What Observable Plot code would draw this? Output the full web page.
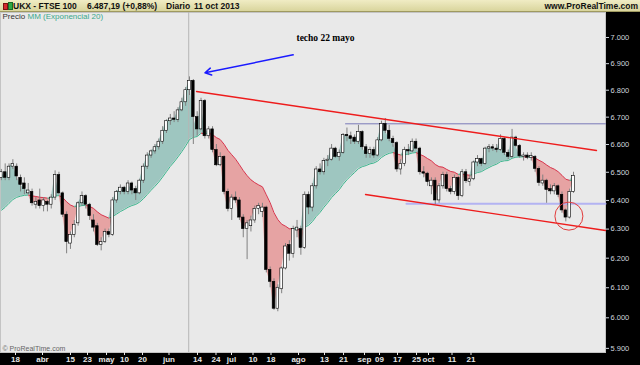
<!DOCTYPE html>
<html><head><meta charset="utf-8">
<script src="https://cdn.jsdelivr.net/npm/d3@7"></script>
<script src="https://cdn.jsdelivr.net/npm/@observablehq/plot@0.6"></script>
<style>
html,body{margin:0;padding:0;background:#000;}
#hdr{position:relative;width:640px;height:12px;box-sizing:border-box;background:linear-gradient(#f0ecc4,#d9d59d);border-bottom:1px solid #9f9a60;font:bold 8.5px "Liberation Sans",Arial,sans-serif;color:#111;white-space:pre;overflow:hidden;}
#hdr span{position:absolute;top:1px;line-height:10px;}
#hdr i{position:absolute;display:block;}
#chart{width:640px;height:353px;}
</style></head><body>
<div id="hdr">
<i style="left:3px;top:3px;width:3px;height:5px;background:#d42a2a;border:1px solid #7a1010"></i>
<i style="left:8px;top:2px;width:3px;height:6px;background:#2fa844;border:1px solid #186a24"></i>
<span style="left:13px">UKX - FTSE 100</span>
<span style="left:87px">6.487,19 (+0,88%)</span>
<span style="left:166px">Diario</span>
<span style="left:194px">11 oct 2013</span>
<span style="right:2px">www.ProRealTime.com</span>
</div>
<div id="chart"></div>
<script>
// Daily candles (trading-day index 0..149), values in thousands of points
const open = [6.48,6.50,6.48,6.52,6.52,6.48,6.46,6.425,6.43,6.385,
6.40,6.38,6.395,6.385,6.41,6.49,6.425,6.35,6.25,6.28,
6.32,6.39,6.415,6.385,6.33,6.31,6.245,6.255,6.29,6.28,
6.40,6.43,6.445,6.43,6.46,6.44,6.425,6.47,6.52,6.56,
6.575,6.59,6.61,6.65,6.685,6.695,6.69,6.725,6.755,6.80,
6.835,6.70,6.655,6.76,6.63,6.655,6.58,6.525,6.555,6.43,
6.37,6.41,6.40,6.34,6.30,6.31,6.33,6.37,6.36,6.375,
6.16,6.12,6.03,6.095,6.165,6.245,6.215,6.295,6.30,6.235,
6.42,6.375,6.45,6.51,6.50,6.54,6.545,6.585,6.555,6.57,
6.635,6.63,6.625,6.61,6.645,6.59,6.565,6.58,6.56,6.615,
6.675,6.65,6.62,6.605,6.51,6.53,6.58,6.575,6.61,6.585,
6.50,6.495,6.45,6.47,6.40,6.45,6.49,6.44,6.43,6.48,
6.415,6.50,6.465,6.475,6.535,6.547,6.53,6.585,6.59,6.585,
6.58,6.62,6.57,6.555,6.625,6.595,6.555,6.56,6.552,6.555,
6.512,6.46,6.47,6.44,6.432,6.45,6.42,6.365,6.34,6.43];
const high = [6.51,6.53,6.53,6.545,6.53,6.49,6.48,6.46,6.44,6.41,
6.44,6.41,6.40,6.42,6.505,6.50,6.43,6.36,6.29,6.33,
6.395,6.43,6.42,6.39,6.35,6.32,6.27,6.30,6.30,6.41,
6.435,6.455,6.45,6.47,6.465,6.45,6.475,6.53,6.57,6.58,
6.60,6.62,6.665,6.69,6.71,6.72,6.735,6.77,6.81,6.85,
6.84,6.72,6.77,6.765,6.665,6.665,6.60,6.57,6.56,6.44,
6.42,6.43,6.41,6.35,6.33,6.345,6.38,6.39,6.39,6.38,
6.17,6.13,6.11,6.17,6.25,6.26,6.31,6.33,6.31,6.43,
6.43,6.46,6.52,6.53,6.55,6.56,6.60,6.59,6.58,6.64,
6.66,6.645,6.635,6.67,6.65,6.60,6.59,6.59,6.625,6.685,
6.695,6.67,6.63,6.61,6.545,6.59,6.60,6.62,6.62,6.59,
6.52,6.50,6.48,6.48,6.46,6.50,6.50,6.45,6.49,6.485,
6.51,6.51,6.49,6.54,6.56,6.55,6.59,6.60,6.60,6.60,
6.635,6.625,6.58,6.655,6.63,6.60,6.57,6.57,6.57,6.56,
6.52,6.49,6.475,6.455,6.46,6.455,6.43,6.37,6.44,6.50];
const low = [6.47,6.47,6.47,6.51,6.47,6.43,6.42,6.42,6.38,6.37,
6.37,6.36,6.36,6.37,6.40,6.42,6.34,6.215,6.23,6.27,
6.31,6.38,6.37,6.33,6.29,6.24,6.225,6.25,6.27,6.275,
6.39,6.42,6.42,6.42,6.42,6.40,6.42,6.46,6.51,6.55,
6.565,6.58,6.60,6.64,6.67,6.68,6.68,6.72,6.74,6.78,
6.60,6.63,6.65,6.62,6.62,6.57,6.52,6.52,6.42,6.36,
6.33,6.39,6.33,6.27,6.195,6.29,6.32,6.35,6.34,6.15,
6.10,6.025,6.02,6.08,6.16,6.19,6.20,6.27,6.21,6.23,
6.35,6.36,6.44,6.49,6.49,6.52,6.54,6.55,6.54,6.565,
6.61,6.60,6.60,6.60,6.58,6.55,6.55,6.55,6.555,6.61,
6.64,6.61,6.59,6.50,6.49,6.52,6.56,6.57,6.58,6.49,
6.48,6.45,6.42,6.385,6.39,6.44,6.43,6.42,6.42,6.40,
6.41,6.46,6.45,6.47,6.52,6.52,6.525,6.57,6.575,6.57,
6.575,6.56,6.545,6.55,6.59,6.55,6.54,6.545,6.54,6.50,
6.45,6.45,6.39,6.42,6.42,6.41,6.355,6.325,6.335,6.425];
const close = [6.50,6.48,6.52,6.53,6.485,6.455,6.44,6.435,6.39,6.395,
6.38,6.40,6.385,6.41,6.49,6.425,6.35,6.255,6.28,6.315,
6.39,6.415,6.385,6.345,6.305,6.245,6.255,6.29,6.28,6.40,
6.43,6.445,6.43,6.46,6.435,6.425,6.47,6.52,6.56,6.575,
6.59,6.61,6.65,6.685,6.695,6.69,6.725,6.755,6.80,6.835,
6.70,6.655,6.76,6.63,6.655,6.58,6.525,6.555,6.43,6.37,
6.41,6.40,6.34,6.30,6.32,6.33,6.37,6.38,6.375,6.16,
6.12,6.03,6.10,6.165,6.24,6.215,6.30,6.305,6.235,6.42,
6.375,6.45,6.51,6.50,6.54,6.545,6.585,6.555,6.57,6.635,
6.63,6.62,6.61,6.645,6.59,6.565,6.58,6.56,6.615,6.675,
6.65,6.62,6.605,6.51,6.53,6.58,6.575,6.61,6.585,6.50,
6.495,6.465,6.47,6.40,6.45,6.49,6.44,6.43,6.48,6.415,
6.50,6.468,6.475,6.535,6.547,6.53,6.585,6.59,6.585,6.58,
6.62,6.57,6.555,6.625,6.595,6.557,6.56,6.552,6.558,6.512,
6.462,6.47,6.437,6.432,6.45,6.42,6.365,6.34,6.43,6.487];
// MM (Exponencial 20) as drawn
const ema20 = [6.365,6.376,6.390,6.403,6.411,6.415,6.418,6.419,6.416,6.414,
6.411,6.410,6.408,6.408,6.416,6.417,6.410,6.395,6.384,6.378,
6.379,6.382,6.383,6.379,6.372,6.360,6.350,6.344,6.338,6.344,
6.352,6.361,6.368,6.376,6.382,6.386,6.394,6.406,6.421,6.436,
6.450,6.465,6.483,6.502,6.521,6.537,6.555,6.574,6.595,6.618,
6.626,6.629,6.641,6.640,6.641,6.636,6.625,6.618,6.601,6.579,
6.563,6.547,6.527,6.506,6.488,6.473,6.463,6.455,6.448,6.420,
6.392,6.357,6.333,6.317,6.310,6.301,6.301,6.301,6.295,6.307,
6.313,6.326,6.344,6.358,6.376,6.392,6.410,6.424,6.438,6.457,
6.473,6.487,6.499,6.513,6.520,6.524,6.530,6.533,6.540,6.553,
6.562,6.568,6.571,6.566,6.562,6.564,6.565,6.569,6.571,6.564,
6.558,6.549,6.541,6.528,6.520,6.518,6.510,6.503,6.500,6.492,
6.493,6.491,6.489,6.494,6.499,6.502,6.510,6.517,6.524,6.529,
6.538,6.541,6.542,6.550,6.554,6.555,6.555,6.555,6.555,6.551,
6.543,6.536,6.526,6.517,6.511,6.502,6.489,6.475,6.471,6.472];
// Axis ticks (x positions are in trading-day index units)
const xTickPos = [3.69,10.72,18.01,22.44,27.39,32.07,36.76,43.66,51.08,55.90,59.94,65.54,70.22,77.39,84.16,89.11,94.57,98.48,103.17,108.12,111.24,117.36,122.31];
const xTickLabels = ["18","abr","15","23","may","10","20","jun","14","24","jul","10","18","ago","13","21","sep","09","17","25","oct","11","21"];
const yTicks = [5.9,6.0,6.1,6.2,6.3,6.4,6.5,6.6,6.7,6.8,6.9,7.0];
// Drawn annotations (data units)
const resistance = [{i:50.82,v:6.7952},{i:155.0,v:6.5782}];
const support = [{i:94.83,v:6.4210},{i:157.33,v:6.2951}];
const topLevel = [{i:89.63,v:6.6755},{i:157.33,v:6.6755}];
const bottomLevel = [{i:105.5,v:6.388},{i:157.33,v:6.388}];
const peakDay = [48.8];
const circleMark = [{i:147.8,v:6.345}];
const arrowMark = [{i1:76.0,v1:6.9337,i2:53.04,v2:6.8654}];
const noteText = [{i:76.86,v:7.0,label:"techo 22 mayo"}];
const legendText = ["Precio","MM (Exponencial 20)"];

const data = close.map((c,i)=>({i, open:open[i], high:high[i], low:low[i], close:c, ema:ema20[i]}));
const segs = data.slice(1).map((d,k)=>({i1:data[k].i, e1:data[k].ema, i2:d.i, e2:d.ema, up:d.close>=d.ema}));
const labelOf = new Map(xTickPos.map((p,k)=>[p,xTickLabels[k]]));

const chart = Plot.plot({
  width:640, height:353,
  marginTop:0, marginBottom:13, marginLeft:0, marginRight:35,
  style:{background:"#000", color:"#ddd", fontFamily:"'Liberation Sans', Arial, sans-serif", fontSize:"8px"},
  x:{domain:[-0.21875,157.333]},
  y:{type:"log", domain:[5.8866,7.0969]},
  marks:[
    Plot.frame({fill:"#e9e9e9", stroke:"#c4c4c4"}),
    Plot.areaY(data,{x:"i", y1:"ema", y2:d=>Math.max(d.close,d.ema), fill:"#9ec6c0"}),
    Plot.areaY(data,{x:"i", y1:"ema", y2:d=>Math.min(d.close,d.ema), fill:"#e6a3a3"}),
    Plot.ruleX(peakDay,{x:d=>d, stroke:"#b5b5b5"}),
    Plot.line(topLevel,{x:"i", y:"v", stroke:"#7a7ab8", strokeWidth:1}),
    Plot.line(bottomLevel,{x:"i", y:"v", stroke:"#b3b3f2", strokeWidth:2}),
    Plot.link(segs,{x1:"i1", y1:"e1", x2:"i2", y2:"e2", stroke:d=>d.up?"#3db58e":"#d8364e", strokeWidth:1}),
    Plot.ruleX(data,{x:"i", y1:"low", y2:"high", stroke:"#808080"}),
    Plot.rect(data,{x1:d=>d.i-0.34, x2:d=>d.i+0.34, y1:"open", y2:"close", fill:d=>d.close>=d.open?"#fff":"#000", stroke:"#000", strokeWidth:0.6}),
    Plot.line(resistance,{x:"i", y:"v", stroke:"#ee1c1c", strokeWidth:1.3}),
    Plot.line(support,{x:"i", y:"v", stroke:"#ee1c1c", strokeWidth:1.3}),
    Plot.dot(circleMark,{x:"i", y:"v", r:14, stroke:"#e23a3a", fill:"none", strokeWidth:1}),
    Plot.arrow(arrowMark,{x1:"i1", y1:"v1", x2:"i2", y2:"v2", stroke:"#1a1aff", strokeWidth:1.5, headLength:7}),
    Plot.text(noteText,{x:"i", y:"v", text:"label", textAnchor:"start", fontFamily:"'Liberation Serif', serif", fontWeight:"bold", fontSize:9.5, fill:"#000"}),
    Plot.text([legendText[0]],{frameAnchor:"top-left", dx:2, dy:1, fill:"#333", fontSize:8}),
    Plot.text([legendText[1]],{frameAnchor:"top-left", dx:27, dy:1, fill:"#3aa88c", fontSize:8}),
    Plot.text(["© ProRealTime.com"],{frameAnchor:"bottom-left", dx:2, dy:-2, fill:"#666", fontSize:7}),
    Plot.axisY(yTicks,{anchor:"right", tickSize:3, tickPadding:2, tickFormat:d=>d.toFixed(3), color:"#d0d6de", fontSize:7.5}),
    Plot.axisX(xTickPos,{anchor:"bottom", tickSize:3, tickPadding:1, tickFormat:d=>labelOf.get(d), color:"#e6e6e6", fontSize:8, fontWeight:"bold"})
  ]
});
document.getElementById("chart").append(chart);
</script>
</body></html>
